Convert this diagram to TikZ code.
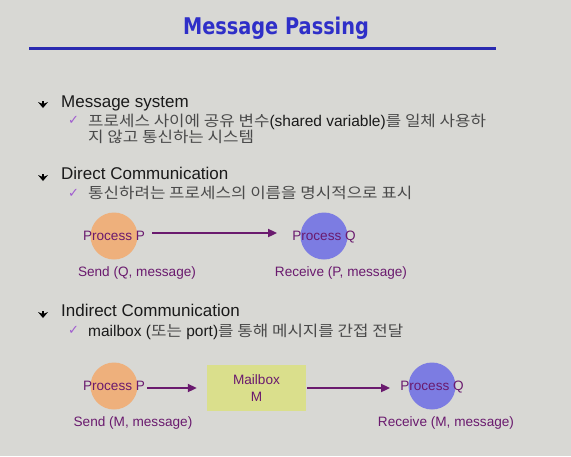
\documentclass[tikz,border=0pt]{standalone}
\usepackage{fontspec}
\setmainfont{Liberation Sans}
\newfontfamily\kr{Noto Sans CJK KR}[FakeStretch=1.12]
\newfontfamily\djv{DejaVu Sans}
\usetikzlibrary{arrows.meta}
\definecolor{bg}{HTML}{D8D8D4}
\definecolor{titleblue}{HTML}{2F2FC8}
\definecolor{rule}{HTML}{2A2AB0}
\definecolor{pur}{HTML}{6A1A6E}
\definecolor{orangeP}{HTML}{EEB07C}
\definecolor{blueQ}{HTML}{7C7CE2}
\definecolor{mbox}{HTML}{DADF8C}
\definecolor{chk}{HTML}{A05CD0}
\definecolor{krgray}{HTML}{4A4A4A}
\definecolor{txt}{HTML}{1A1A1A}
\tikzset{
  head/.style={anchor=base west, inner sep=0, text=txt, font=\fontsize{17}{17}\selectfont},
  sub/.style={anchor=base west, inner sep=0, text=txt, text height=11, text depth=3, font=\fontsize{15.5}{15.5}\selectfont},
  chkmark/.style={anchor=base west, inner sep=0, text=chk, font=\djv\fontsize{13}{13}\selectfont},
  proc/.style={anchor=base, inner sep=0, text=pur, font=\fontsize{13.6}{13.6}\selectfont},
  lbl/.style={anchor=base, inner sep=0, text=pur, font=\fontsize{13.6}{13.6}\selectfont},
  pcirc/.style={circle, minimum size=47, inner sep=0, draw=none},
  arr/.style={draw=pur, line width=2, -{Triangle[length=9,width=8]}},
}
\newcommand{\kor}[1]{{\kr\fontsize{15}{15}\selectfont\color{krgray}#1}}
\begin{document}
\begin{tikzpicture}[x=1pt,y=-1pt]
\useasboundingbox[fill=bg] (0,0) rectangle (571,456);
% title
\node[anchor=base, inner sep=0, text=titleblue] (title) at (276,34)
  {\scalebox{0.84}[1]{\djv\bfseries\fontsize{23}{23}\selectfont Message Passing}};
\draw[rule, line width=3] (29,48) -- (496,48);

% bullets (drawn)
\foreach \yy in {102,175,312}{
  \fill (38,\yy) -- (43,\yy+2) -- (48,\yy) -- (43,\yy+6) -- cycle;
  \fill (41.8,\yy-1.5) rectangle (44.2,\yy+2);
}

% Message system
\node[head] (h1) at (61,107) {Message system};
\node[chkmark] (c1) at (68,124) {✓};
\node[sub] (s1a) at (88,126) {\kor{프로세스 사이에 공유 변수}(shared variable)\kor{를 일체 사용하}};
\node[sub] (s1b) at (88,142) {\kor{지 않고 통신하는 시스템}};

% Direct Communication
\node[head] (h2) at (61,179) {Direct Communication};
\node[chkmark] (c2) at (68,197) {✓};
\node[sub] (s2) at (88,198) {\kor{통신하려는 프로세스의 이름을 명시적으로 표시}};

\node[pcirc, fill=orangeP] (cP1) at (114,236) {};
\node[pcirc, fill=blueQ] (cQ1) at (324,236) {};
\node[proc] (tP1) at (114,240) {Process P};
\node[proc] (tQ1) at (324,240) {Process Q};
\draw[arr] ([xshift=7]tP1.east |- 0,233) -- ([xshift=-15]tQ1.west |- 0,233);
\node[lbl] (sendQ) at (137,276) {Send (Q, message)};
\node[lbl] (recvP) at (341,276) {Receive (P, message)};

% Indirect Communication
\node[head] (h3) at (61,316) {Indirect Communication};
\node[chkmark] (c3) at (68,334) {✓};
\node[sub] (s3) at (88,336) {mailbox (\kor{또는} port)\kor{를 통해 메시지를 간접 전달}};

\node[pcirc, fill=orangeP] (cP2) at (114,386) {};
\node[pcirc, fill=blueQ] (cQ2) at (432,386) {};
\node[proc] (tP2) at (114,390) {Process P};
\node[proc] (tQ2) at (432,390) {Process Q};
\node[rectangle, fill=mbox, minimum width=99, minimum height=46, inner sep=0,
      text=pur, font=\fontsize{13.6}{16.5}\selectfont, align=center] (mb) at (256.5,388) {Mailbox\\M};
\draw[arr] ([xshift=2]tP2.east |- 0,388) -- ([xshift=-10]mb.west |- 0,388);
\draw[arr] ([xshift=1]mb.east |- 0,388) -- ([xshift=-10]tQ2.west |- 0,388);
\node[lbl] (sendM) at (133,426) {Send (M, message)};
\node[lbl] (recvM) at (446,426) {Receive (M, message)};
\end{tikzpicture}
\end{document}
